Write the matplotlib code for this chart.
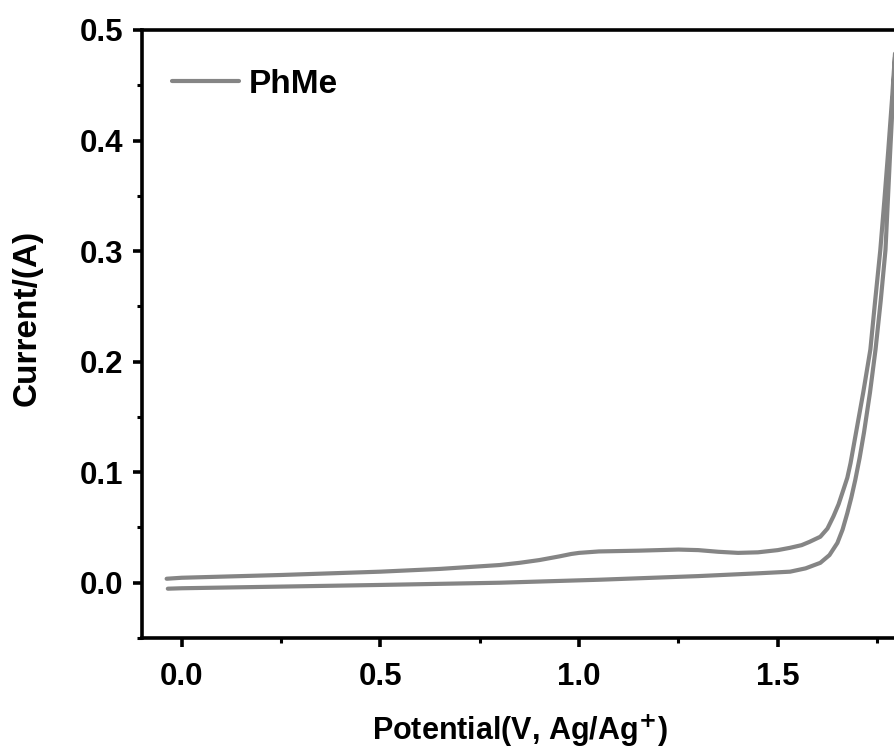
import matplotlib
matplotlib.use("Agg")
import matplotlib.pyplot as plt
from matplotlib.ticker import MultipleLocator

plt.rcParams['font.family'] = ['Liberation Sans', 'DejaVu Sans']
plt.rcParams['font.weight'] = 'bold'
plt.rcParams['mathtext.default'] = 'bf'

# Forward scan (lower branch)
fwd_v = [-0.035, 0.0, 0.25, 0.5, 0.8, 1.05, 1.3, 1.45, 1.531, 1.57, 1.607, 1.63, 1.650,
         1.663, 1.675, 1.685, 1.695, 1.706, 1.717, 1.732, 1.746, 1.759, 1.771, 1.783,
         1.790, 1.797]
fwd_i = [-0.0054, -0.005, -0.0035, -0.002, 0.0, 0.0027, 0.006, 0.0085, 0.010, 0.013, 0.018,
         0.025, 0.036, 0.048, 0.063, 0.077, 0.093, 0.113, 0.136, 0.172, 0.211, 0.255, 0.301,
         0.391, 0.44, 0.49]

# Reverse scan (upper branch)
rev_v = [1.797, 1.788, 1.778, 1.768, 1.758, 1.745, 1.733, 1.715, 1.698, 1.683, 1.675, 1.665,
         1.653, 1.640, 1.625, 1.607, 1.58, 1.56, 1.531, 1.5, 1.45, 1.40, 1.35, 1.30, 1.25,
         1.15, 1.05, 1.0, 0.98, 0.95, 0.9, 0.85, 0.8, 0.65, 0.5, 0.25, 0.0, -0.038]
rev_i = [0.49, 0.44, 0.391, 0.345, 0.301, 0.255, 0.211, 0.172, 0.138, 0.108, 0.095, 0.084,
         0.071, 0.060, 0.049, 0.0416, 0.037, 0.034, 0.0316, 0.0295, 0.0275, 0.027, 0.028,
         0.0295, 0.030, 0.029, 0.0283, 0.027, 0.026, 0.0238, 0.0205, 0.018, 0.016, 0.0125,
         0.010, 0.007, 0.0045, 0.0036]

label = "PhMe"
color = "#858585"

fig = plt.figure(figsize=(8.95, 7.55), dpi=100)
ax = fig.add_axes([142/895, (755-638)/755, (897-142)/895, (638-30)/755])

ax.plot(fwd_v + rev_v, fwd_i + rev_i, color=color, lw=3.0, label=label,
        solid_joinstyle='round', solid_capstyle='round')

ax.set_xlim(-0.1, 1.8)
ax.set_ylim(-0.05, 0.5)
ax.xaxis.set_major_locator(MultipleLocator(0.5))
ax.xaxis.set_minor_locator(MultipleLocator(0.25))
ax.yaxis.set_major_locator(MultipleLocator(0.1))
ax.yaxis.set_minor_locator(MultipleLocator(0.05))
ax.xaxis.set_major_formatter(plt.FormatStrFormatter('%.1f'))
ax.yaxis.set_major_formatter(plt.FormatStrFormatter('%.1f'))

for s in ax.spines.values():
    s.set_linewidth(2.6)
ax.tick_params(which='major', direction='out', length=6.5, width=2.6, labelsize=22.5)
ax.tick_params(axis='y', which='major', pad=7)
ax.tick_params(axis='x', which='major', pad=11)
ax.tick_params(which='minor', direction='out', length=3.6, width=2.2)
for t in ax.get_xticklabels() + ax.get_yticklabels():
    t.set_fontweight('bold')

ax.set_xlabel("Potential(V, Ag/Ag$^{+}$)", fontsize=22, fontweight='bold', va='center')
ax.set_ylabel("Current/(A)", fontsize=24, fontweight='bold', va='center')
ax.xaxis.set_label_coords((520 - 142) / 755, (638 - 731) / 608)
ax.yaxis.set_label_coords((27 - 142) / 755, (638 - 318) / 608)

leg = ax.legend(loc='upper left', frameon=False, fontsize=24, handlelength=2.0,
                handletextpad=0.3, bbox_to_anchor=(0.0, 0.985), borderaxespad=0.5)
for t in leg.get_texts():
    t.set_fontweight('bold')

fig.savefig("out.png", dpi=100)
